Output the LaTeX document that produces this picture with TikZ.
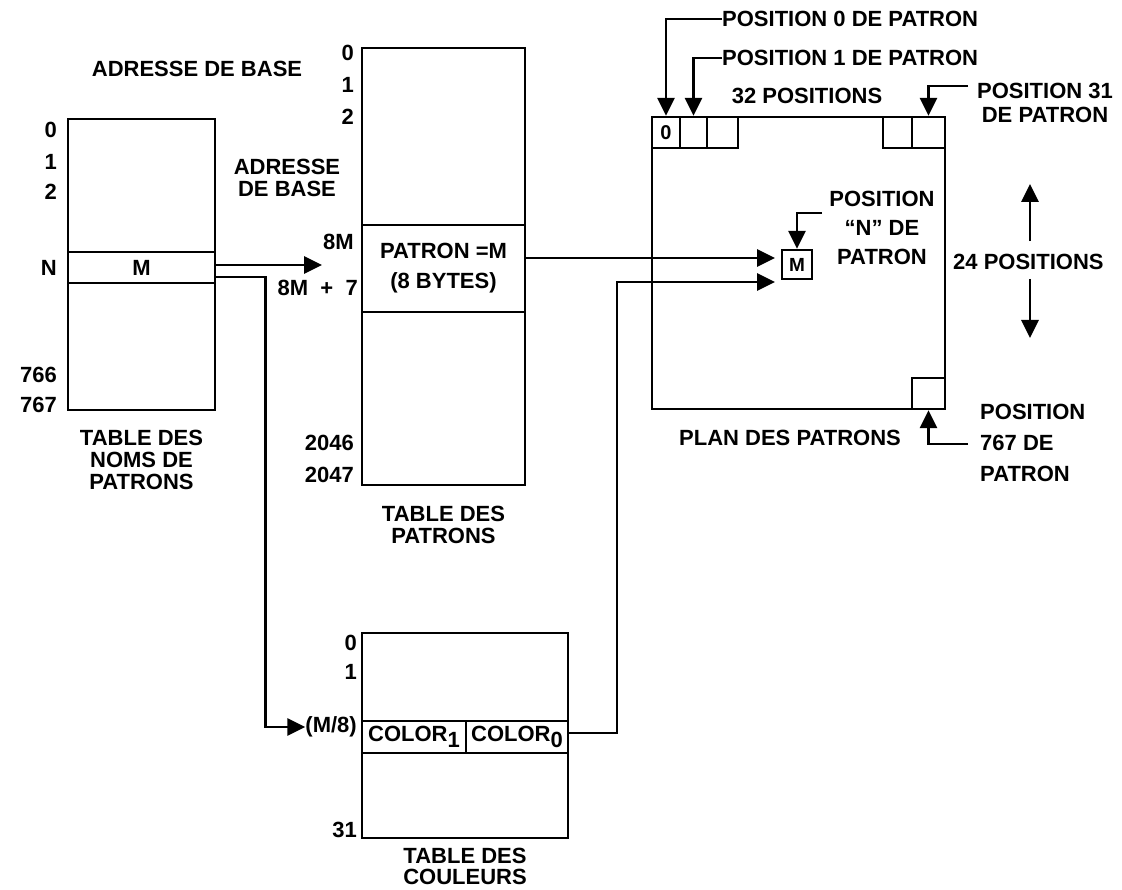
\documentclass[tikz,border=0pt]{standalone}
\usepackage{fontspec}
\setmainfont{Liberation Sans}
\usetikzlibrary{arrows.meta,positioning}

\begin{document}
\begin{tikzpicture}[
  x=1pt, y=-1pt,
  every node/.style={font=\fontsize{22}{22}\selectfont\bfseries},
  tablebox/.style 2 args={draw, line width=2.8pt, minimum width=#1, minimum height=#2, inner sep=0pt},
  cell/.style 2 args={draw, line width=2.4pt, minimum width=#1, minimum height=#2, inner sep=0pt},
  lbl/.style={inner sep=0pt, align=center},
  arr/.style={-{Triangle[length=18pt, width=17pt]}, line width=2.8pt}
]
\useasboundingbox (0,0) rectangle (1122,890);

% table des noms de patrons
\node[tablebox={147pt}{291pt}] (noms) at (141.5,264.5) {};
\node[tablebox={147pt}{31pt}] (nomsM) at (141.5,267.5) {M};
\node[lbl, below=19pt of noms] (nomsCap) {TABLE DES\\NOMS DE\\PATRONS};
\node[lbl] (base1) at (197,69) {ADRESSE DE BASE};
\foreach \t/\y in {0/130, 1/162, 2/192, N/268, 766/375, 767/405}
  \node[lbl, anchor=east] (noms-\t) at (57,\y) {\t};

% table des patrons
\node[tablebox={163pt}{437pt}] (pat) at (443.5,266.5) {};
\node[tablebox={163pt}{87pt}, align=center] (patM) at (443.5,268.5) {PATRON =M\\[8pt](8 BYTES)};
\node[lbl, below=20pt of pat] (patCap) {TABLE DES\\PATRONS};
\node[lbl] (base2) at (287,178) {ADRESSE\\DE BASE};
\foreach \t/\y in {0/53, 1/85, 2/117, 2046/443, 2047/475}
  \node[lbl, anchor=east] (pat-\t) at (354,\y) {\t};
\node[lbl, anchor=east] (pat8M) at (354,242) {8M};
\node[lbl, anchor=east] (pat8M7) at (358,288) {8M\ \ +\ \ 7};

% table des couleurs
\node[tablebox={206pt}{205pt}] (coul) at (465,735.5) {};
\node[cell={104pt}{32pt}] (col1) at (414,737) {COLOR\raisebox{-6pt}{1}};
\node[cell={102pt}{32pt}] (col0) at (517,737) {COLOR\raisebox{-6pt}{0}};
\node[lbl, below=9pt of coul, font=\fontsize{22}{21}\selectfont\bfseries] (coulCap) {TABLE DES\\COULEURS};
\foreach \t/\y in {0/643, 1/672, 31/830}
  \node[lbl, anchor=east] (coul-\t) at (357,\y) {\t};
\node[lbl, anchor=east] (col8) at (357,727) {(M/8)};

% plan des patrons
\node[tablebox={293pt}{292pt}] (plan) at (798.5,263) {};
\node[cell={28pt}{31pt}, font=\fontsize{20}{20}\selectfont\bfseries] (c0) at (666,132.5) {0};
\node[cell={27pt}{31pt}] (c1) at (693.5,132.5) {};
\node[cell={31pt}{31pt}] (c2) at (722.5,132.5) {};
\node[cell={29pt}{31pt}] (c30) at (897.5,132.5) {};
\node[cell={33pt}{31pt}] (c31) at (928.5,132.5) {};
\node[cell={33pt}{31pt}] (c767) at (928.5,393.5) {};
\node[cell={30pt}{29pt}, font=\fontsize{19}{19}\selectfont\bfseries] (mbox) at (797,264.5) {M};
\node[lbl] (planCap) at (790,438) {PLAN DES PATRONS};

\node[lbl, anchor=west] (pos0) at (722,19) {POSITION 0 DE PATRON};
\node[lbl, anchor=west] (pos1) at (722,58) {POSITION 1 DE PATRON};
\node[lbl] (pos32) at (807,96) {32 POSITIONS};
\node[lbl] (pos31) at (1045,103) {POSITION 31\\[2pt]DE PATRON};
\node[lbl] (posN) at (882,228) {POSITION\\[7pt]``N'' DE\\[7pt]PATRON};
\node[lbl, anchor=west] (pos24) at (953,262) {24 POSITIONS};
\node[lbl, anchor=west, align=left] (pos767) at (980,443) {POSITION\\[9pt]767 DE\\[9pt]PATRON};

\coordinate (lead31) at (968,86);
\coordinate (leadN) at (822,213);
\coordinate (lead767) at (968,444);
\coordinate (up24) at (1030,184);
\coordinate (dn24) at (1030,338);
\coordinate (tip8M) at (322,265);
\coordinate (tipA) at (775,258);
\coordinate (tipB) at (775,282);

\draw[arr] (pos0.west) -| (c0.north);
\draw[arr] (pos1.west) -| (c1.north);
\draw[arr] (lead31) -| (c31.north);
\draw[arr] (leadN) -| (mbox.north);
\draw[arr] (lead767) -| (c767.south);
\draw[arr] (up24 |- pos24.north) ++(0,-13) -- (up24);
\draw[arr] (dn24 |- pos24.south) ++(0,9) -- (dn24);

\draw[arr] (nomsM.east |- tip8M) -- (tip8M);
\draw[arr] ([yshift=-9.5pt]nomsM.east) -| ([xshift=-40pt]col8.west) -- (col8.west);
\draw[arr] (patM.east |- tipA) -- (tipA);
\draw[arr] ([yshift=4pt]col0.east) -| ([xshift=-158pt]tipB) -- (tipB);

\end{tikzpicture}
\end{document}
